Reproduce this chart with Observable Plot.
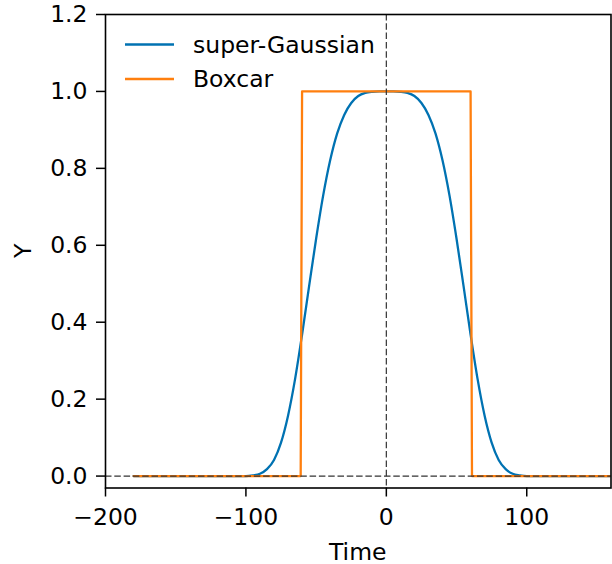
<!DOCTYPE html>
<html>
<head>
<meta charset="utf-8">
<script src="https://cdn.jsdelivr.net/npm/d3@7"></script>
<script src="https://cdn.jsdelivr.net/npm/@observablehq/plot@0.6"></script>
<style>
  html, body { margin: 0; padding: 0; background: white; }
  #chart svg { display: block; }
</style>
</head>
<body>
<div id="chart"></div>
<script>
// ---- data ----
const sgTime  = [-180, -110, -105, -100, -95, -90, -85, -80, -75, -70, -65, -60, -55, -50, -45, -40, -35, -30, -25, -20, -15, -10, -5, 0,
                 5, 10, 15, 20, 25, 30, 35, 40, 45, 50, 55, 60, 65, 70, 75, 80, 85, 90, 95, 100, 105, 110, 180];
const sgValue = [0, 0, 0, 0.000, 0.002, 0.006, 0.018, 0.042, 0.087, 0.157, 0.252, 0.368, 0.494, 0.617, 0.729, 0.821, 0.891, 0.939, 0.970, 0.988, 0.996, 0.999, 1.000, 1.000,
                 1.000, 0.999, 0.996, 0.988, 0.970, 0.939, 0.891, 0.821, 0.729, 0.617, 0.494, 0.368, 0.252, 0.157, 0.087, 0.042, 0.018, 0.006, 0.002, 0.000, 0, 0, 0];
const boxTime  = [-180, -61, -60, 60, 61, 180];
const boxValue = [0, 0, 1, 1, 0, 0];

const seriesNames = ["super-Gaussian", "Boxcar"];
const seriesColors = ["#0072b2", "#ff7f0e"];

const xTicks = [-200, -100, 0, 100];
const xTickLabels = ["\u2212200", "\u2212100", "0", "100"];
const yTicks = [0, 0.2, 0.4, 0.6, 0.8, 1.0, 1.2];
const yTickLabels = ["0.0", "0.2", "0.4", "0.6", "0.8", "1.0", "1.2"];
const xLabel = "Time";
const yLabel = "Y";

const sgData = sgTime.map((t, i) => ({t, v: sgValue[i]}));
const boxData = boxTime.map((t, i) => ({t, v: boxValue[i]}));

const W = 612, H = 564;
const mL = 105, mR = 1.5, mT = 14, mB = 76.5;
const FONT = "DejaVu Sans";
const FS = 23.5;

const plot = Plot.plot({
  width: W,
  height: H,
  marginLeft: mL,
  marginRight: mR,
  marginTop: mT,
  marginBottom: mB,
  style: {fontFamily: FONT, fontSize: FS + "px", color: "black", background: "white"},
  x: {domain: [-200, 160]},
  y: {domain: [-0.031, 1.2]},
  marks: [
    Plot.line(sgData, {x: "t", y: "v", stroke: seriesColors[0], strokeWidth: 2.3, curve: "monotone-x", clip: true}),
    Plot.line(boxData, {x: "t", y: "v", stroke: seriesColors[1], strokeWidth: 2.3, clip: true}),
    Plot.ruleY([0], {stroke: "#333", strokeWidth: 1.2, strokeDasharray: "6.5,2.8"}),
    Plot.ruleX([0], {stroke: "#333", strokeWidth: 1.2, strokeDasharray: "6.5,2.8"}),
    Plot.axisX({ticks: xTicks, tickFormat: (d) => xTickLabels[xTicks.indexOf(d)], tickSize: 9, tickPadding: 11, fontSize: FS, strokeWidth: 1.5, label: null}),
    Plot.axisY({ticks: yTicks, tickFormat: (d) => yTickLabels[yTicks.indexOf(d)], tickSize: 9, tickPadding: 9, fontSize: FS, strokeWidth: 1.5, label: null}),
    Plot.frame({stroke: "black", strokeWidth: 1.6})
  ]
});

document.getElementById("chart").appendChild(plot);

// axis labels and legend
const svg = d3.select(plot);
svg.append("text")
  .attr("x", (mL + W - mR) / 2)
  .attr("y", 559.5)
  .attr("text-anchor", "middle")
  .attr("font-family", FONT)
  .attr("font-size", FS)
  .attr("fill", "black")
  .text(xLabel);
svg.append("text")
  .attr("transform", `translate(31, ${(mT + H - mB) / 2}) rotate(-90)`)
  .attr("text-anchor", "middle")
  .attr("font-family", FONT)
  .attr("font-size", FS)
  .attr("fill", "black")
  .text(yLabel);

const legendY = [44.5, 79];
seriesNames.forEach((name, i) => {
  svg.append("line")
    .attr("x1", 125).attr("x2", 174)
    .attr("y1", legendY[i]).attr("y2", legendY[i])
    .attr("stroke", seriesColors[i])
    .attr("stroke-width", 2.3);
  svg.append("text")
    .attr("x", 193)
    .attr("y", legendY[i])
    .attr("dy", "0.36em")
    .attr("text-anchor", "start")
    .attr("font-family", FONT)
    .attr("font-size", FS)
    .attr("fill", "black")
    .text(name);
});
</script>
</body>
</html>
